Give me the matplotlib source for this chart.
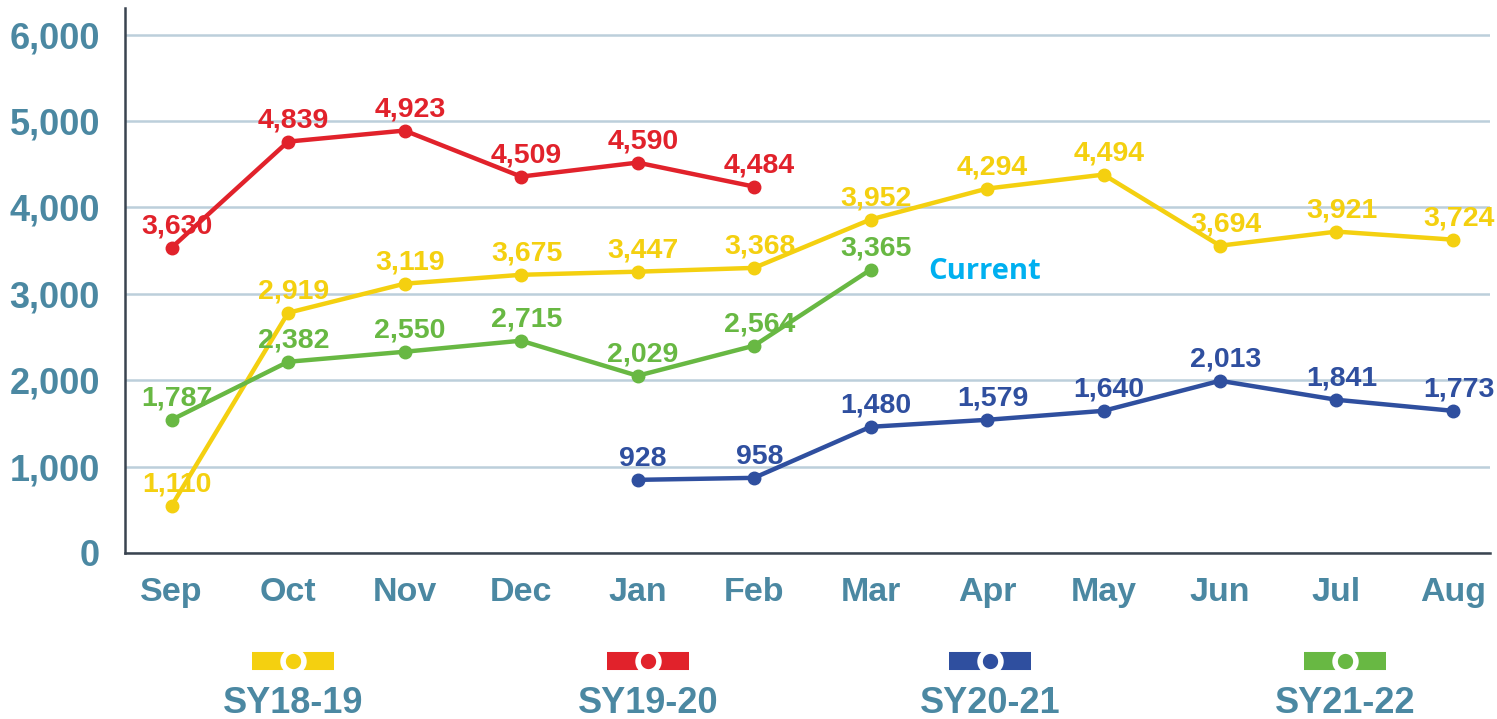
import matplotlib
matplotlib.use("Agg")
import matplotlib.pyplot as plt

months = ['Sep', 'Oct', 'Nov', 'Dec', 'Jan', 'Feb', 'Mar', 'Apr', 'May', 'Jun', 'Jul', 'Aug']

# point heights as drawn in the picture (the printed labels do not always agree with them)
sy1819 = [545, 2780, 3117, 3220, 3256, 3300, 3860, 4218, 4380, 3557, 3720, 3627]
sy1819_lbl = ['1,110', '2,919', '3,119', '3,675', '3,447', '3,368', '3,952', '4,294', '4,494', '3,694', '3,921', '3,724']

sy1920 = [3534, 4762, 4890, 4357, 4519, 4241]
sy1920_lbl = ['3,630', '4,839', '4,923', '4,509', '4,590', '4,484']

sy2021 = [846, 869, 1460, 1541, 1645, 1993, 1773, 1645]
sy2021_lbl = ['928', '958', '1,480', '1,579', '1,640', '2,013', '1,841', '1,773']
sy2021_start = 4  # Jan

sy2122 = [1541, 2213, 2329, 2457, 2051, 2399, 3279]
sy2122_lbl = ['1,787', '2,382', '2,550', '2,715', '2,029', '2,564', '3,365']

series_names = ['SY18-19', 'SY19-20', 'SY20-21', 'SY21-22']
colors = ['#f4d010', '#e1222b', '#2f4f9f', '#68b843']
yticks = [0, 1000, 2000, 3000, 4000, 5000, 6000]

tick_color = '#4b88a2'
plt.rcParams['font.family'] = ['Liberation Sans', 'DejaVu Sans']

fig = plt.figure(figsize=(14.97, 7.19), dpi=100)
ax = fig.add_axes([0.0835, 0.231, 0.912, 0.758])

series = [
    (sy1819, sy1819_lbl, 0, colors[0]),
    (sy1920, sy1920_lbl, 0, colors[1]),
    (sy2021, sy2021_lbl, sy2021_start, colors[2]),
    (sy2122, sy2122_lbl, 0, colors[3]),
]

# draw order: yellow under the others, like the original
for vals, lbls, start, col in [series[0], series[3], series[1], series[2]]:
    xs = list(range(start, start + len(vals)))
    ax.plot(xs, vals, color=col, lw=3.2, marker='o', ms=9, zorder=3)
    for x, v, t in zip(xs, vals, lbls):
        ax.annotate(t, (x, v), xytext=(4, 6), textcoords='offset points',
                    ha='center', va='bottom', fontsize=20.5, fontweight='bold',
                    color=col, zorder=4)

ax.text(6.98, 3256, 'Current', color='#00b0f0', fontsize=21, fontweight='bold',
        family=['Open Sans', 'DejaVu Sans'], va='center', ha='center')

ax.set_xlim(-0.40, 11.32)
ax.set_ylim(0, 6310)
ax.set_xticks(range(len(months)))
ax.set_xticklabels(months)
ax.set_yticks(yticks)
ax.set_yticklabels([f'{v:,}' for v in yticks])
ax.tick_params(length=0, labelcolor=tick_color)
ax.tick_params(axis='y', labelsize=26, pad=18)
ax.tick_params(axis='x', labelsize=24.5, pad=17)
for lab in ax.get_xticklabels() + ax.get_yticklabels():
    lab.set_fontweight('bold')

ax.grid(axis='y', color='#bccfdb', lw=1.8)
ax.set_axisbelow(True)
for s in ['top', 'right']:
    ax.spines[s].set_visible(False)
ax.spines['left'].set_color('#3a4450')
ax.spines['bottom'].set_color('#3a4450')
ax.spines['left'].set_linewidth(1.8)
ax.spines['bottom'].set_linewidth(1.8)

# legend row at the bottom
leg = fig.add_axes([0, 0, 1, 0.13])
leg.set_xlim(0, 1497)
leg.set_ylim(93, 0)
leg.axis('off')
leg_x = [293, 648, 990, 1345]
for cx, name, col in zip(leg_x, series_names, colors):
    leg.plot([cx - 41, cx + 41], [35, 35], color=col, lw=13, solid_capstyle='butt')
    leg.plot([cx], [35], marker='o', ms=15, color=col, mec='white', mew=4)
    leg.text(cx, 78, name, ha='center', va='center', fontsize=26,
             fontweight='bold', color=tick_color)

fig.savefig('out.png', dpi=100)
